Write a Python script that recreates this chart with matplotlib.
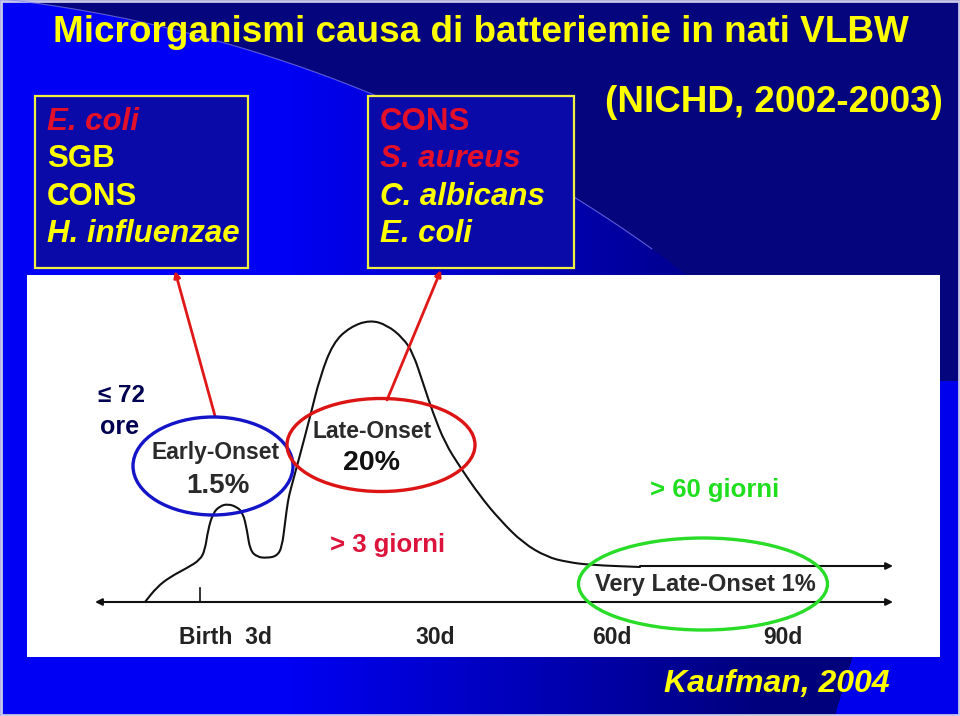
import numpy as np
import matplotlib
matplotlib.use("Agg")
import matplotlib.pyplot as plt
from matplotlib.patches import Ellipse, Rectangle, PathPatch
from matplotlib.path import Path

plt.rcParams['font.family'] = ['Liberation Sans', 'DejaVu Sans']

# ---------------- data ----------------
title = "Microrganismi causa di batteriemie in nati VLBW"
early_list = ["E. coli", "SGB", "CONS", "H. influenzae"]
early_colors = ["red", "yellow", "yellow", "yellow"]
early_italic = [True, False, False, True]
late_list = ["CONS", "S. aureus", "C. albicans", "E. coli"]
late_colors = ["red", "red", "yellow", "yellow"]
late_italic = [False, True, True, True]
source_top = "(NICHD, 2002-2003)"
source_bottom = "Kaufman, 2004"

# schematic incidence curve (horizontal position, height above time axis)
curve_x = [145, 157, 170, 187, 200, 205, 208, 213, 220, 228, 237, 243, 247, 250,
           257, 267, 277, 282, 285, 288, 291, 300, 310, 320, 333, 350, 370, 387,
           403, 413, 423, 433, 445, 460, 480, 500, 523, 547, 567, 590, 640]
curve_y = [0, 15, 25, 34, 42, 52, 72, 89, 96, 98, 95, 89, 72, 52,
           45, 44, 46, 55, 79, 102, 114, 147, 185, 225, 259, 275, 282, 277,
           264, 249, 219, 189, 159, 135, 106, 82, 59, 45, 40, 37, 35]
tail_level = 36
axis_start, axis_end = 95, 893
birth_pos = 200
tick_positions = [225, 435, 612, 783]
tick_labels = ["Birth  3d", "30d", "60d", "90d"]

W, H = 960, 716
RED = '#E4102A'
YEL = '#FFFF00'

fig = plt.figure(figsize=(W / 100, H / 100), dpi=100)

# ---------------- background ----------------
bg = fig.add_axes([0, 0, 1, 1])
yy, xx = np.mgrid[0:H, 0:W]
cx, cy, r = -155.0, 1377.0, 1387.0
inside = (xx - cx) ** 2 + (yy - cy) ** 2 < r ** 2
blue_in = np.clip(245 - (xx - 280) / 480 * 120, 125, 245)
blue = np.where(inside, blue_in, 125)
img = np.zeros((H, W, 3))
img[..., 2] = blue / 255
img[..., 0] = np.where(inside, 0, 5 / 255)
img[..., 1] = np.where(inside, 0, 5 / 255)
stripe = (xx > 935 - (yy - 380) * 0.3) & (yy > 380)
img[stripe] = [0, 0, 0.93]
bg.imshow(img, extent=[0, W, H, 0], aspect='auto', interpolation='bilinear')
t = np.linspace(-1.6, -0.95, 300)
bg.plot(cx + r * np.cos(t), cy + r * np.sin(t), color='#8080ff', lw=0.8, alpha=0.7)
bg.set_xlim(0, W)
bg.set_ylim(H, 0)
bg.axis('off')
bg.add_patch(Rectangle((1, 1), W - 2, H - 2, fill=False, ec='#c8c8e8', lw=2))

# ---------------- top texts ----------------
fig.text(481 / W, 1 - 33 / H, title, color=YEL, fontsize=26.6, fontweight='bold',
         ha='center', va='center')
fig.text(943 / W, 1 - 103 / H, source_top, color=YEL, fontsize=26.5, fontweight='bold',
         ha='right', va='center')
fig.text(890 / W, 1 - 684 / H, source_bottom, color=YEL, fontsize=23, fontweight='bold',
         style='italic', ha='right', va='center')

for (x0, x1, items, cols, itals) in [(35, 248, early_list, early_colors, early_italic),
                                     (368, 574, late_list, late_colors, late_italic)]:
    fig.patches.append(Rectangle((x0 / W, 1 - 268 / H), (x1 - x0) / W, 172 / H,
                                 transform=fig.transFigure, fc='#0a0aa8', ec='#f0f040',
                                 lw=1.6, zorder=1))
    for i, (s, c, it) in enumerate(zip(items, cols, itals)):
        fig.text((x0 + 12) / W, 1 - (122 + 37.3 * i) / H, s,
                 color=RED if c == 'red' else YEL, fontsize=22.5, fontweight='bold',
                 style='italic' if it else 'normal', ha='left', va='center', zorder=3)

# ---------------- white panel ----------------
px0, px1, py0, py1 = 27, 940, 275, 657
base = 602
ax = fig.add_axes([px0 / W, 1 - py1 / H, (px1 - px0) / W, (py1 - py0) / H])
ax.set_facecolor('white')
ax.set_xlim(px0, px1)
ax.set_ylim(base - py1, base - py0)
for s in ax.spines.values():
    s.set_visible(False)
ax.set_xticks([])
ax.set_yticks([])

# smooth rendering of the curve through its points (quadratic segments)
pts = np.column_stack([curve_x, curve_y]).astype(float)
verts = [pts[0], (pts[0] + pts[1]) / 2]
codes = [Path.MOVETO, Path.LINETO]
for i in range(1, len(pts) - 1):
    verts += [pts[i], (pts[i] + pts[i + 1]) / 2]
    codes += [Path.CURVE3, Path.CURVE3]
verts.append(pts[-1])
codes.append(Path.LINETO)
ax.add_patch(PathPatch(Path(verts, codes), fill=False, ec='#111111', lw=1.5,
                       joinstyle='round', capstyle='round'))

ax.annotate('', xy=(axis_end, tail_level), xytext=(curve_x[-1], tail_level),
            arrowprops=dict(arrowstyle='-|>', color='#111111', lw=1.5,
                            shrinkA=0, shrinkB=0, mutation_scale=10))
ax.annotate('', xy=(axis_end, 0), xytext=(axis_start, 0),
            arrowprops=dict(arrowstyle='<|-|>', color='#111111', lw=1.5,
                            shrinkA=0, shrinkB=0, mutation_scale=10))
ax.plot([birth_pos, birth_pos], [0, 14], color='#111111', lw=1.2)

for x, lab in zip(tick_positions, tick_labels):
    ax.text(x, -35, lab, ha='center', va='center', fontsize=16.5, fontweight='bold',
            color='#222222')

# ellipses
ax.add_patch(Ellipse((213, 136), 160, 98, fill=False, ec='#1414c8', lw=2.4, zorder=4))
ax.add_patch(Ellipse((381, 157), 188, 93, fill=False, ec='#dc1414', lw=2.4, zorder=4))
ax.add_patch(Ellipse((703, 18), 249, 92, fill=False, ec='#28dc28', lw=2.4, zorder=4))

# red arrows to the boxes
ax.annotate('', xy=(175, 331), xytext=(215, 186), annotation_clip=False,
            arrowprops=dict(arrowstyle='-|>', color='#e01818', lw=2.0,
                            shrinkA=0, shrinkB=0, mutation_scale=9))
ax.annotate('', xy=(441, 332), xytext=(387, 202), annotation_clip=False,
            arrowprops=dict(arrowstyle='-|>', color='#e01818', lw=2.0,
                            shrinkA=0, shrinkB=0, mutation_scale=9))

# labels
ax.text(216, 150, "Early-Onset", ha='center', va='center', fontsize=16.5,
        fontweight='bold', color='#2a2a2a', zorder=5)
ax.text(218, 116, "1.5%", ha='center', va='center', fontsize=20,
        fontweight='bold', color='#2a2a2a', zorder=5)
ax.text(372, 170, "Late-Onset", ha='center', va='center', fontsize=16.5,
        fontweight='bold', color='#2a2a2a', zorder=5)
ax.text(372, 139, "20%", ha='center', va='center', fontsize=20.5,
        fontweight='bold', color='#111111', zorder=5)
ax.text(705, 17, "Very Late-Onset 1%", ha='center', va='center', fontsize=17,
        fontweight='bold', color='#2a2a2a', zorder=5)
ax.text(121, 207, "≤ 72", ha='center', va='center', fontsize=17.5,
        fontweight='bold', color='#000050', zorder=5)
ax.text(120, 175, "ore", ha='center', va='center', fontsize=18,
        fontweight='bold', color='#000050', zorder=5)
ax.text(388, 57, "> 3 giorni", ha='center', va='center', fontsize=18.5,
        fontweight='bold', color='#dc143c', zorder=5)
ax.text(715, 112, "> 60 giorni", ha='center', va='center', fontsize=18.5,
        fontweight='bold', color='#1ede1e', zorder=5)

fig.savefig("out.png", dpi=100)
